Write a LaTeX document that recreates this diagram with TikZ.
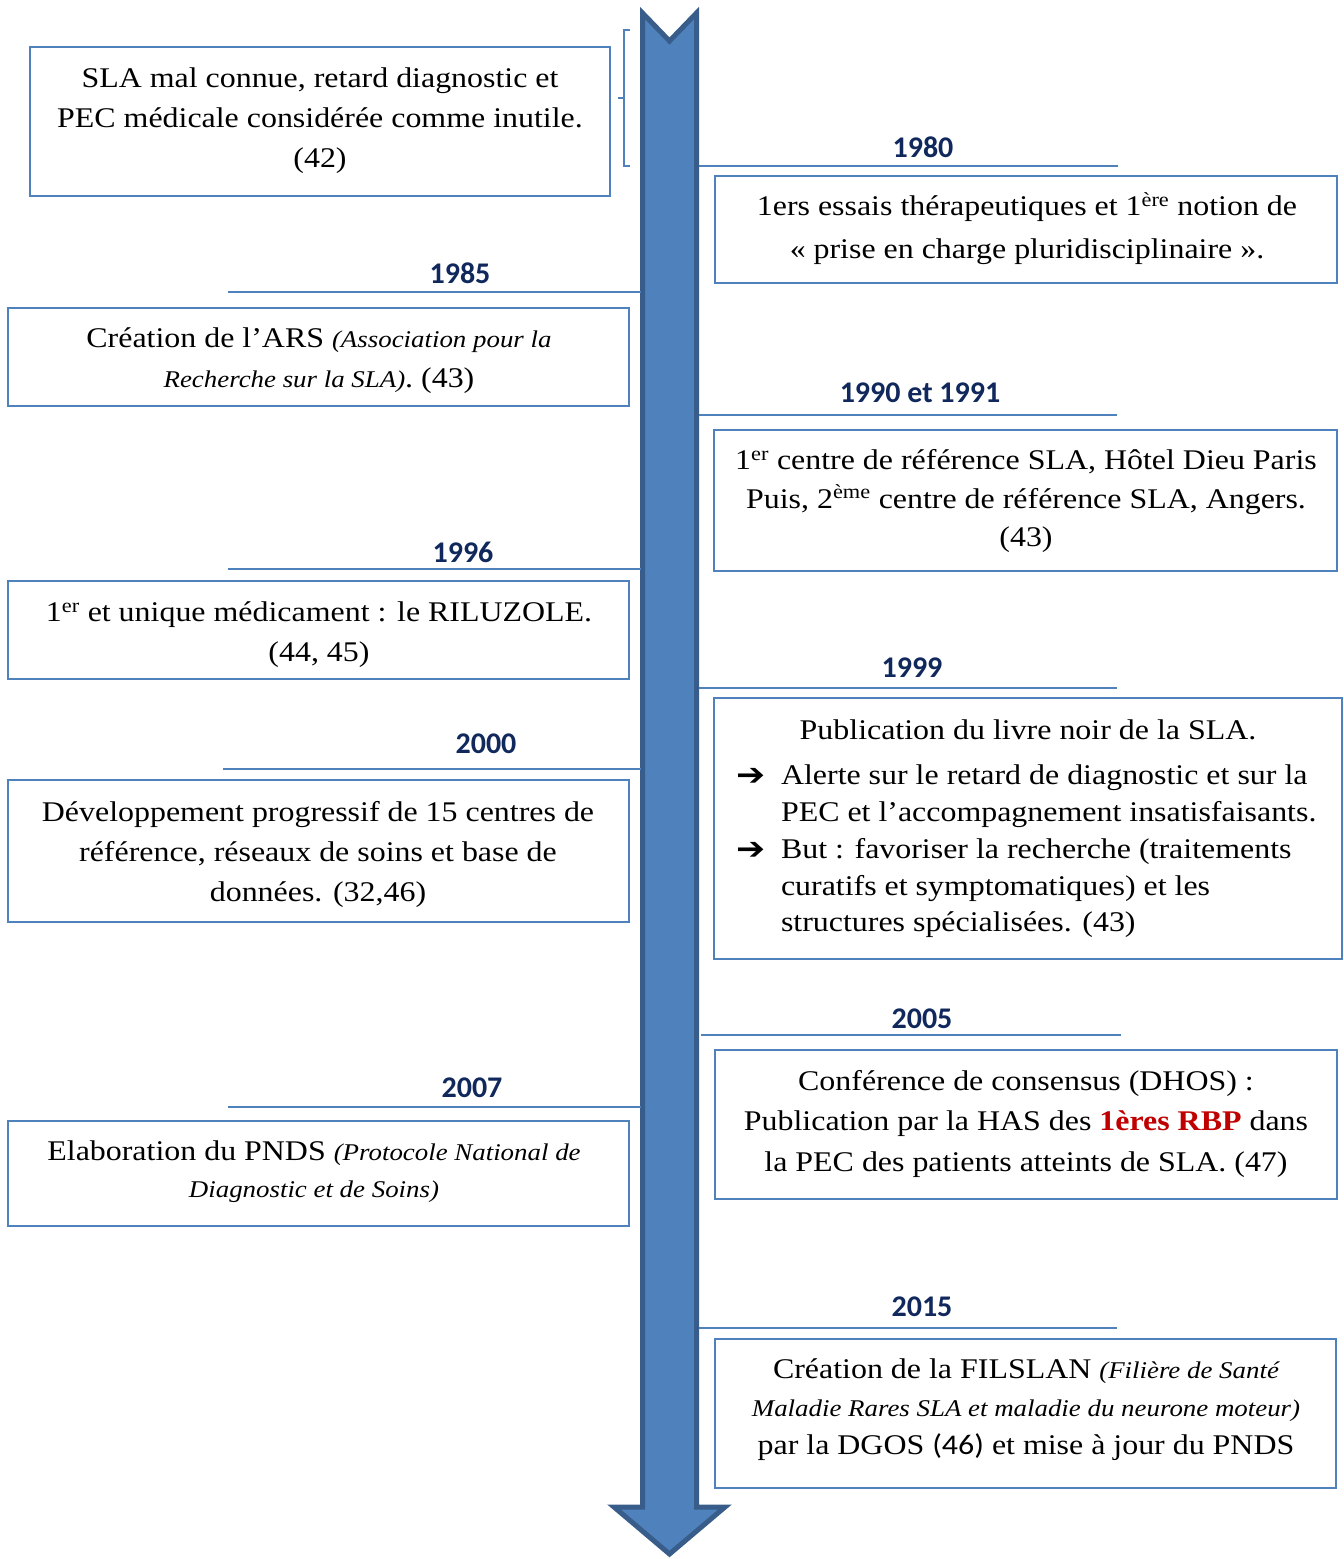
\documentclass[tikz,border=0pt]{standalone}
\usepackage{fontspec}
\usepackage{graphicx}
\setmainfont{Liberation Serif}
\newfontfamily\calib{Carlito}
\newfontfamily\symfont{DejaVu Sans}
\definecolor{boxblue}{HTML}{4F81BD}
\definecolor{arrowfill}{HTML}{4F81BD}
\definecolor{arrowborder}{HTML}{385D8A}
\definecolor{navy}{HTML}{10285C}
\definecolor{rbp}{HTML}{C00000}
\newcommand\itsm{\fontsize{24}{30}\selectfont\itshape}
\newcommand\bul{\makebox[40pt][l]{\raisebox{-1pt}{\symfont\bfseries\fontsize{31}{30}\selectfont ➔}}}
\tikzset{
  evbox/.style={draw=boxblue, line width=1.8pt, inner sep=0pt},
  evtext/.style={align=center, inner sep=0pt, xscale=1.12},
  year/.style={inner sep=0pt, text=navy, font=\calib\bfseries\fontsize{30}{36}\selectfont},
  yline/.style={draw=boxblue, line width=2.5pt},
  bracket/.style={draw=boxblue, line width=2pt},
  bigarrow/.style={fill=arrowfill, draw=arrowborder, line width=5pt, line join=miter}
}
\begin{document}
\begin{tikzpicture}[x=1pt,y=-1pt]
\useasboundingbox (0,0) rectangle (1344,1559);
% big timeline arrow
\path[bigarrow] (642.5,13) -- (669.5,41) -- (696.5,13) -- (696.5,1507) -- (725,1507)
  -- (669.5,1554) -- (614,1507) -- (642.5,1507) -- cycle;
% bracket
\path[bracket] (630,30) -- (624,30) -- (624,166) -- (630,166);
\path[bracket] (624,98) -- (618,98);

% boxes
\node[evbox, minimum width=580pt, minimum height=149pt] (b1) at (320,121.5) {};
\node[evbox, minimum width=622pt, minimum height=107pt] (b80) at (1026,229.5) {};
\node[evbox, minimum width=621pt, minimum height=98pt] (b85) at (318.5,357) {};
\node[evbox, minimum width=623pt, minimum height=141pt] (b90) at (1025.5,500.5) {};
\node[evbox, minimum width=621pt, minimum height=98pt] (b96) at (318.5,630) {};
\node[evbox, minimum width=628pt, minimum height=261pt] (b99) at (1028,828.5) {};
\node[evbox, minimum width=621pt, minimum height=142pt] (b00) at (318.5,851) {};
\node[evbox, minimum width=622pt, minimum height=149pt] (b05) at (1026,1124.5) {};
\node[evbox, minimum width=621pt, minimum height=105pt] (b07) at (318.5,1173.5) {};
\node[evbox, minimum width=621pt, minimum height=149pt] (b15) at (1025.5,1413.5) {};

% texts
\node[evtext, font=\fontsize{28.5}{40}\selectfont] (t1) at (320,121)
  {SLA mal connue, retard diagnostic et\\PEC médicale considérée comme inutile.\\(42)};
\node[evtext, font=\fontsize{28.5}{43}\selectfont] (t80) at (1027,228.5)
  {1ers essais thérapeutiques et 1\textsuperscript{ère} notion de\\« prise en charge pluridisciplinaire ».};
\node[evtext, font=\fontsize{28.5}{40}\selectfont] (t85) at (319,361)
  {Création de l’ARS {\itsm (Association pour la}\\{\itsm Recherche sur la SLA)}. (43)};
\node[evtext, font=\fontsize{28.5}{38.5}\selectfont] (t90) at (1026,501)
  {1\textsuperscript{er} centre de référence SLA, Hôtel Dieu Paris\\Puis, 2\textsuperscript{ème} centre de référence SLA, Angers.\\(43)};
\node[evtext, font=\fontsize{28.5}{40}\selectfont] (t96) at (319,634.5)
  {1\textsuperscript{er} et unique médicament : le RILUZOLE.\\(44, 45)};
\node[evtext, font=\fontsize{28.5}{40}\selectfont] (t99a) at (1028,730)
  {Publication du livre noir de la SLA.};
\node[evtext, align=left, anchor=west, font=\fontsize{28.5}{36.75}\selectfont] (t99b) at (736,851.5)
  {\bul Alerte sur le retard de diagnostic et sur la\\
   \hspace*{40pt}PEC et l’accompagnement insatisfaisants.\\
   \bul But : favoriser la recherche (traitements\\
   \hspace*{40pt}curatifs et symptomatiques) et les\\
   \hspace*{40pt}structures spécialisées. (43)};
\node[evtext, font=\fontsize{28.5}{40}\selectfont] (t00) at (318,854)
  {Développement progressif de 15 centres de\\référence, réseaux de soins et base de\\données. (32,46)};
\node[evtext, font=\fontsize{28.5}{40.5}\selectfont] (t05) at (1026,1123.5)
  {Conférence de consensus (DHOS) :\\Publication par la HAS des {\color{rbp}\bfseries 1ères RBP} dans\\la PEC des patients atteints de SLA. (47)};
\node[evtext, font=\fontsize{28.5}{37}\selectfont] (t07) at (314,1172)
  {Elaboration du PNDS {\itsm (Protocole National de}\\{\itsm Diagnostic et de Soins)}};
\node[evtext, font=\fontsize{28.5}{38}\selectfont] (t15) at (1026,1410)
  {Création de la FILSLAN {\itsm (Filière de Santé}\\{\itsm Maladie Rares SLA et maladie du neurone moteur)}\\par la DGOS {\calib (46)} et mise à jour du PNDS};

% year labels
\node[year] (y80) at (923,147) {1980};
\node[year] (y85) at (460,273) {1985};
\node[year] (y90) at (920,393) {1990 et 1991};
\node[year] (y96) at (463,552) {1996};
\node[year] (y99) at (912,668) {1999};
\node[year] (y00) at (486,744) {2000};
\node[year] (y05) at (922,1019) {2005};
\node[year] (y07) at (472,1088) {2007};
\node[year] (y15) at (922,1307) {2015};

% year lines
\coordinate (a80) at (699,166);  \coordinate (e80) at (1118,166);
\coordinate (a85) at (641,292);  \coordinate (e85) at (228,292);
\coordinate (a90) at (699,415);  \coordinate (e90) at (1117,415);
\coordinate (a96) at (641,569);  \coordinate (e96) at (228,569);
\coordinate (a99) at (699,688);  \coordinate (e99) at (1117,688);
\coordinate (a00) at (641,769);  \coordinate (e00) at (223,769);
\coordinate (a05) at (701,1035); \coordinate (e05) at (1121,1035);
\coordinate (a07) at (641,1107); \coordinate (e07) at (228,1107);
\coordinate (a15) at (699,1328); \coordinate (e15) at (1117,1328);
\foreach \k in {80,85,90,96,99,00,05,07,15} {\draw[yline] (a\k) -- (e\k);}
\end{tikzpicture}
\end{document}
